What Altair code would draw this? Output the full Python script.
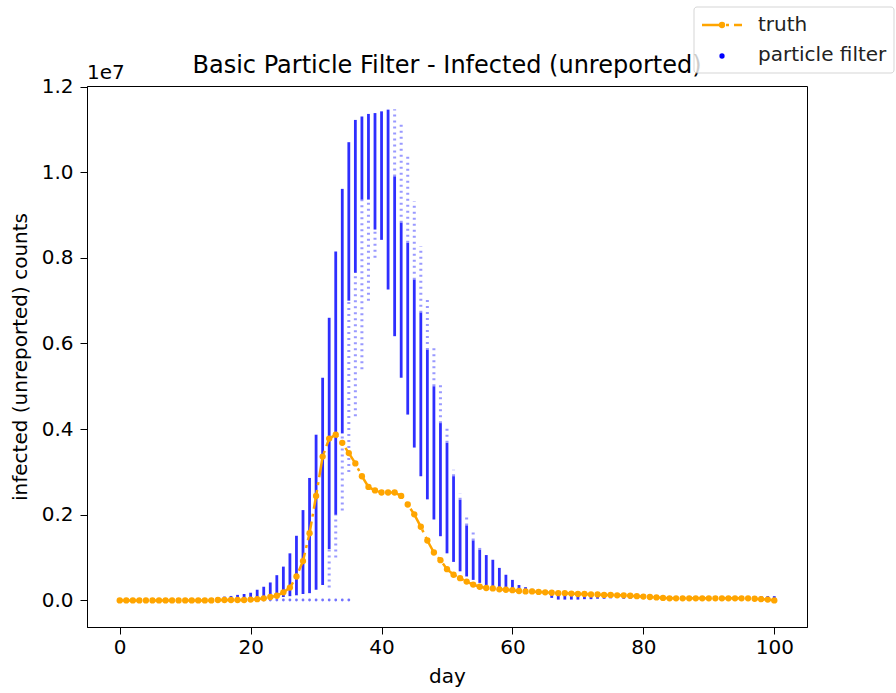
import altair as alt
import pandas as pd

# ---------------- data (values in units of 1e7) ----------------
days = list(range(101))

truth = ([0.000] * 15 + [0.001] * 5 +
         [0.002, 0.003, 0.005, 0.008, 0.011, 0.019, 0.030, 0.056, 0.092, 0.157,   # 20-29
          0.244, 0.336, 0.378, 0.387, 0.368, 0.344, 0.320, 0.290, 0.265, 0.257,   # 30-39
          0.252, 0.252, 0.252, 0.244, 0.224, 0.201, 0.172, 0.140, 0.112, 0.094,   # 40-49
          0.073, 0.060, 0.052, 0.044, 0.037, 0.032, 0.029, 0.028, 0.026, 0.025,   # 50-59
          0.024, 0.022, 0.021, 0.021, 0.020, 0.019, 0.018, 0.017, 0.017, 0.016,   # 60-69
          0.015, 0.015, 0.014, 0.014, 0.013, 0.013, 0.012, 0.012, 0.011, 0.010,   # 70-79
          0.009, 0.008, 0.007, 0.006, 0.005, 0.005, 0.005, 0.005, 0.005, 0.005,   # 80-89
          0.005, 0.005, 0.005, 0.005, 0.005, 0.005, 0.005, 0.004, 0.003, 0.002,   # 90-99
          0.000])                                                                 # 100

# particle cloud per day: dense band [lo, hi]
pf_lo = ([0.000] * 17 +
         [0.001, 0.001, 0.002, 0.003, 0.003, 0.004, 0.005, 0.006, 0.008, 0.010,   # 17-26
          0.012, 0.015, 0.017, 0.025, 0.036, 0.120, 0.200, 0.390, 0.700, 0.765,   # 27-36
          0.936, 0.936, 0.866, 0.842, 0.726, 0.617, 0.520, 0.434, 0.357, 0.290,   # 37-46
          0.236, 0.189, 0.150, 0.110, 0.090, 0.068, 0.056, 0.048, 0.041, 0.036,   # 47-56
          0.032, 0.028, 0.026, 0.024, 0.022, 0.020, 0.018, 0.016, 0.014, 0.006,   # 57-66
          0.002, 0.002, 0.002, 0.002, 0.003, 0.003, 0.004, 0.004, 0.005, 0.006] + # 67-76
         [0.004] * 24)                                                            # 77-100
pf_hi = ([0.003] * 14 +
         [0.005, 0.007, 0.009, 0.0105, 0.013, 0.015, 0.018, 0.025, 0.032, 0.042,  # 14-23
          0.059, 0.079, 0.110, 0.151, 0.211, 0.286, 0.387, 0.520, 0.660, 0.815,   # 24-33
          0.961, 1.070, 1.122, 1.130, 1.136, 1.138, 1.142, 1.146, 0.990, 0.882,   # 34-43
          0.835, 0.749, 0.672, 0.585, 0.500, 0.414, 0.368, 0.290, 0.235, 0.175,   # 44-53
          0.140, 0.118, 0.106, 0.095, 0.076, 0.060, 0.048, 0.036, 0.031, 0.027,   # 54-63
          0.024, 0.021, 0.019, 0.017, 0.016, 0.015, 0.015, 0.014, 0.014, 0.013,   # 64-73
          0.013, 0.012, 0.012] +                                                  # 74-76
         [0.010] * 24)                                                            # 77-100

# sparse outlying particles per day
sp_day = [32, 33, 34, 35, 36, 37, 38, 39, 42, 43, 44, 45, 46, 47, 48, 49, 50, 51, 52, 53, 54, 55]
sp_lo = [0.03, 0.10, 0.21, 0.30, 0.43, 0.54, 0.70, 0.80, 0.990, 0.882, 0.835, 0.749,
         0.672, 0.585, 0.500, 0.414, 0.368, 0.290, 0.235, 0.175, 0.140, 0.118]
sp_hi = [0.12, 0.20, 0.39, 0.70, 0.765, 0.936, 0.936, 0.866, 1.147, 1.119, 1.041, 0.932,
         0.827, 0.702, 0.593, 0.507, 0.410, 0.305, 0.250, 0.200, 0.160, 0.130]

# particles collapsed to ~zero
zero_day = list(range(17, 36))
zero_val = [0.001] * len(zero_day)

E7 = 1e7
BLUE = "#0000FF"
ORANGE = "#FFA500"
FONT = "DejaVu Sans"
TITLE = "Basic Particle Filter - Infected (unreported)"

truth_df = pd.DataFrame({"day": days, "count": [v * E7 for v in truth]})
dense_df = pd.DataFrame({"day": days, "count": [v * E7 for v in pf_lo],
                         "count2": [v * E7 for v in pf_hi]})
sparse_df = pd.DataFrame({"day": sp_day, "count": [v * E7 for v in sp_lo],
                          "count2": [v * E7 for v in sp_hi]})
zero_df = pd.DataFrame({"day": zero_day, "count": [v * E7 for v in zero_val]})

xs = alt.Scale(domain=[-5, 105], nice=False, zero=False)
ys = alt.Scale(domain=[-0.062 * E7, 1.2012 * E7], nice=False, zero=False)

x_axis = alt.Axis(values=[0, 20, 40, 60, 80, 100], title="day", grid=False,
                  tickSize=7, labelPadding=3, titlePadding=9)
y_axis = alt.Axis(values=[0, 0.2 * E7, 0.4 * E7, 0.6 * E7, 0.8 * E7, 1.0 * E7, 1.2 * E7],
                  labelExpr="format(datum.value / 10000000, '.1f')",
                  title="infected (unreported) counts", grid=False,
                  tickSize=7, labelPadding=7, titlePadding=11)

X = alt.X("day:Q", scale=xs, axis=x_axis)
Y = alt.Y("count:Q", scale=ys, axis=y_axis)

dense = alt.Chart(dense_df).mark_rule(color=BLUE, strokeWidth=2.8, opacity=0.82).encode(
    x=X, y=Y, y2="count2:Q")
sparse = alt.Chart(sparse_df).mark_rule(color=BLUE, strokeWidth=3, opacity=0.4,
                                        strokeDash=[2, 4]).encode(x=X, y=Y, y2="count2:Q")
zero = alt.Chart(zero_df).mark_circle(color=BLUE, size=8, opacity=0.55).encode(x=X, y=Y)

truth_line = alt.Chart(truth_df).mark_line(color=ORANGE, strokeWidth=2.5,
                                           strokeDash=[19, 5, 3, 5]).encode(x=X, y=Y)
truth_pts = alt.Chart(truth_df).mark_circle(color=ORANGE, size=40, opacity=1).encode(x=X, y=Y)

# ---------------- decorations: title, offset text and legend ----------------
one = pd.DataFrame({"k": [0]})
title_txt = alt.Chart(one).mark_text(text=TITLE, font=FONT, fontSize=24, align="center",
                                     baseline="alphabetic", color="black").encode(
    x=alt.value(360), y=alt.value(-13))
offset_txt = alt.Chart(one).mark_text(text="1e7", font=FONT, fontSize=20, align="left",
                                      baseline="alphabetic", color="black").encode(
    x=alt.value(0), y=alt.value(-7))

leg_box = alt.Chart(one).mark_rect(fill="white", stroke="#cccccc", strokeWidth=1,
                                   cornerRadius=3, opacity=0.8).encode(
    x=alt.value(607), x2=alt.value(807), y=alt.value(-79), y2=alt.value(-13))
leg_line = alt.Chart(one).mark_rule(color=ORANGE, strokeWidth=2.5,
                                    strokeDash=[19, 5, 3, 5]).encode(
    x=alt.value(615), x2=alt.value(655), y=alt.value(-61))
leg_pt1 = alt.Chart(one).mark_circle(color=ORANGE, size=40, opacity=1).encode(
    x=alt.value(635), y=alt.value(-61))
leg_pt2 = alt.Chart(one).mark_circle(color=BLUE, size=28, opacity=1).encode(
    x=alt.value(635), y=alt.value(-30))
leg_t1 = alt.Chart(one).mark_text(text="truth", font=FONT, fontSize=20, align="left",
                                  baseline="middle", color="#222222").encode(
    x=alt.value(671), y=alt.value(-61))
leg_t2 = alt.Chart(one).mark_text(text="particle filter", font=FONT, fontSize=20,
                                  align="left", baseline="middle", color="#222222").encode(
    x=alt.value(671), y=alt.value(-31))

chart = alt.layer(
    dense, sparse, zero, truth_line, truth_pts, title_txt, offset_txt,
    leg_box, leg_line, leg_pt1, leg_pt2, leg_t1, leg_t2
).properties(
    width=720, height=541,
    background="white",
    autosize=alt.AutoSizeParams(type="none"),
    padding={"left": 87, "top": 86, "right": 89, "bottom": 66},
).configure_axis(
    labelFont=FONT, labelFontSize=20, titleFont=FONT, titleFontSize=20,
    titleFontWeight="normal", labelColor="black", titleColor="black",
    domainColor="black", tickColor="black", domainWidth=1, tickWidth=1,
).configure_view(
    stroke="black", strokeWidth=1
)

chart.save("out.html", embed_options={"renderer": "svg", "actions": False})
